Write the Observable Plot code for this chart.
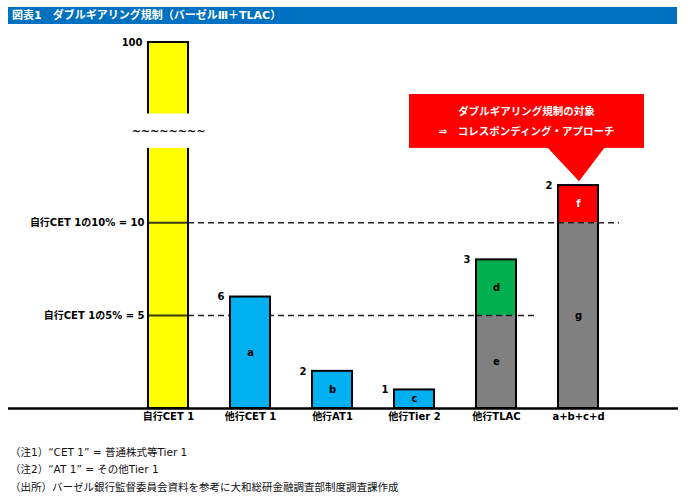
<!DOCTYPE html>
<html>
<head>
<meta charset="utf-8">
<script src="https://cdn.jsdelivr.net/npm/d3@7"></script>
<script src="https://cdn.jsdelivr.net/npm/@observablehq/plot@0.6"></script>
<style>
  html, body { margin: 0; padding: 0; background: #fff; }
  body { width: 700px; height: 503px; overflow: hidden; font-family: "DejaVu Sans", "Noto Sans CJK JP", sans-serif; }
  .title { margin: 7px 23px 0 8px; height: 17px; line-height: 17px; background: #0070c0; color: #fff;
           font-weight: bold; font-size: 11px; padding-left: 4px; white-space: nowrap; }
  #chart svg { display: block; }
  .notes { margin-top: 16px; padding-left: 10px; font-size: 10.5px; line-height: 17.3px; color: #111; white-space: nowrap; }
</style>
</head>
<body>
<div class="title">図表1　ダブルギアリング規制（バーゼルⅢ＋TLAC）</div>
<div id="chart"></div>
<div class="notes" id="notes"></div>
<script>
// ---- data ----
const categories = ["自行CET 1", "他行CET 1", "他行AT1", "他行Tier 2", "他行TLAC", "a+b+c+d"];
const segCategory = ["自行CET 1", "他行CET 1", "他行AT1", "他行Tier 2", "他行TLAC", "他行TLAC", "a+b+c+d", "a+b+c+d"];
const segKey      = ["own", "a", "b", "c", "e", "d", "g", "f"];
const segValue    = [100, 6, 2, 1, 5, 3, 10, 2];
const segText     = ["", "a", "b", "c", "e", "d", "g", "f"];
const refValues = [10, 5];
const refLabels = ["自行CET 1の10% = 10", "自行CET 1の5% = 5"];
const refEnds   = ["a+b+c+d", "他行TLAC"];
const calloutTarget = "a+b+c+d";
const calloutLines = ["ダブルギアリング規制の対象", "⇒　コレスポンディング・アプローチ"];
const notes = [
  "（注1）“CET 1” = 普通株式等Tier 1",
  "（注2）“AT 1” = その他Tier 1",
  "（出所）バーゼル銀行監督委員会資料を参考に大和総研金融調査部制度調査課作成"
];
const breakRange = [14, 15.85];   // axis break on the 100 bar

// ---- derived tables ----
const segments = segKey.map((k, i) => ({cat: segCategory[i], key: k, value: segValue[i], text: segText[i]}));
const totals = categories.map(c => {
  const s = segments.filter(d => d.cat === c);
  return {cat: c, total: d3.sum(s, d => d.value), top: s[s.length - 1].value};
});
const boundaries = [];
categories.forEach(c => {
  const s = segments.filter(d => d.cat === c);
  let acc = 0;
  s.slice(0, -1).forEach(d => { acc += d.value; boundaries.push({cat: c, y: acc}); });
});
const refs = refValues.map((v, i) => ({value: v, label: refLabels[i], from: categories[0], to: refEnds[i]}));

const colorKeys = ["own", "a", "b", "c", "d", "e", "f", "g"];
const colorRange = ["#ffff00", "#00b0f0", "#00b0f0", "#00b0f0", "#00b050", "#808080", "#ff0000", "#808080"];

function callout(index, scales) {
  const x = scales.x, y = scales.y;
  const bw = x.bandwidth ? x.bandwidth() : 40;
  const cx = x(calloutTarget) + bw / 2;
  const top = y(16.9), bot = y(14.0), apex = y(12.2);
  const left = cx - 169, right = cx + 66;
  const g = d3.create("svg:g");
  g.append("rect").attr("x", left).attr("y", top).attr("width", right - left).attr("height", bot - top).attr("fill", "#ff0000");
  g.append("path").attr("d", `M${cx - 31},${bot - 1}L${cx + 27},${bot - 1}L${cx + 1},${apex}Z`).attr("fill", "#ff0000");
  calloutLines.forEach((t, i) => {
    g.append("text").attr("x", (left + right) / 2).attr("y", top + 17 + i * 20.7)
      .attr("dy", "0.35em").attr("text-anchor", "middle").attr("fill", "#fff")
      .attr("font-size", "10.5px").attr("font-weight", "bold").text(t);
  });
  return g.node();
}

const chart = Plot.plot({
  width: 700,
  height: 404,
  marginTop: 18,
  marginBottom: 20,
  marginLeft: 8,
  marginRight: 22,
  style: {fontFamily: "'DejaVu Sans','Noto Sans CJK JP',sans-serif", fontSize: "10px", fontWeight: "bold", color: "#000", background: "#fff"},
  x: {domain: categories, range: [105, 640], padding: 0.513, tickSize: 0, tickPadding: 4, label: null},
  y: {domain: [0, 19.7], clamp: true, axis: null},
  color: {domain: colorKeys, range: colorRange},
  marks: [
    Plot.ruleY(refs, {y: "value", x1: "from", x2: "to", insetLeft: 40, insetRight: -21, stroke: "#222", strokeWidth: 1.5, strokeDasharray: "6,4"}),
    Plot.barY(segments, Plot.stackY({x: "cat", y: "value", fill: "key", order: null})),
    Plot.tickY(boundaries, {x: "cat", y: "y", stroke: "#222", strokeWidth: 1.5, strokeDasharray: "6,4"}),
    Plot.tickY(refs, {x: "from", y: "value", stroke: "#3a3a10", strokeWidth: 2}),
    Plot.barY(totals, {x: "cat", y: "total", fill: "none", stroke: "#000", strokeWidth: 2}),
    Plot.barY(totals.slice(0, 1), {x: "cat", y1: () => breakRange[0], y2: () => breakRange[1], fill: "#fff", insetLeft: -3, insetRight: -3}),
    Plot.text(totals.slice(0, 1), {x: "cat", y: () => (breakRange[0] + breakRange[1]) / 2, text: () => "~~~~~~~~", fontSize: 11}),
    Plot.ruleY([0], {stroke: "#000", strokeWidth: 2.5}),
    Plot.text(segments, Plot.stackY({x: "cat", y: "value", text: "text", fill: d => d.key === "f" ? "#fff" : "#000", order: null})),
    Plot.text(totals, {x: "cat", y: "total", text: d => String(d.top), textAnchor: "end", dx: -26}),
    Plot.text(refs, {x: "from", y: "value", text: "label", textAnchor: "end", dx: -24}),
    callout
  ]
});
document.getElementById("chart").appendChild(chart);
document.getElementById("notes").innerHTML = notes.map(n => `<div>${n}</div>`).join("");
</script>
</body>
</html>
